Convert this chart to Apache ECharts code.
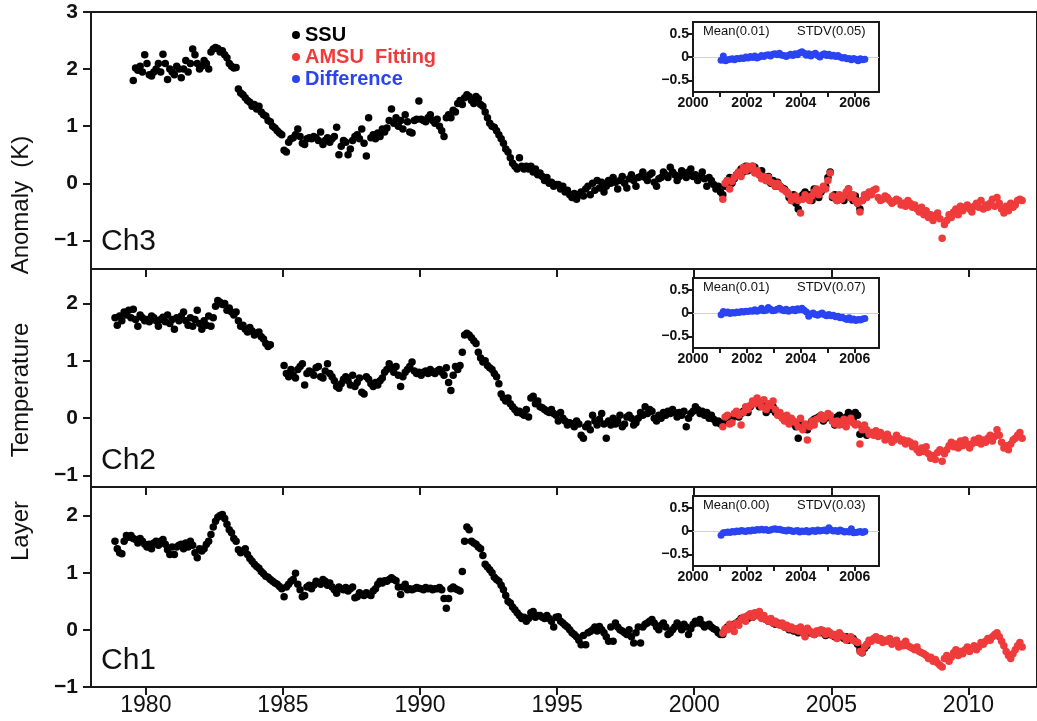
<!DOCTYPE html>
<html>
<head>
<meta charset="utf-8">
<script src="https://cdn.jsdelivr.net/npm/echarts@6/dist/echarts.min.js"></script>
<style>html,body{margin:0;padding:0;background:#fff}#chart{width:1037px;height:721px}</style>
</head>
<body>
<div id="chart"></div>
<script>
// monthly anomalies (K); each series starts at the given year + month (1-12)
let ssuStart = { ch3: [1979, 7], ch2: [1978, 11], ch1: [1978, 11] };
let amsuStart = [2001, 1];
let diffStart = [2001, 1];

let ssuCh3 = [
  1.80, 2.02, 1.98, 2.05, 1.95, 2.25,
  2.10, 1.90, 1.88, 1.95, 2.00, 2.10, 1.95, 2.26, 2.10, 1.82, 2.00, 1.95,
  1.90, 2.05, 2.00, 1.85, 2.00, 2.15, 1.95, 2.10, 2.35, 2.25, 2.10, 2.00,
  2.05, 2.15, 2.10, 2.00, 2.30, 2.35, 2.38, 2.36, 2.30, 2.32, 2.25, 2.20,
  2.10, 2.05, 2.02, 2.03, 1.65, 1.58, 1.55, 1.50, 1.45, 1.42, 1.35, 1.38,
  1.30, 1.35, 1.25, 1.20, 1.18, 1.10, 1.08, 1.00, 0.97, 0.92, 0.88, 0.85,
  0.58, 0.55, 0.72, 0.78, 0.80, 0.85, 0.95, 0.82, 0.70, 0.68, 0.78, 0.80,
  0.78, 0.82, 0.80, 0.75, 0.90, 0.68, 0.75, 0.80, 0.72, 0.78, 0.82, 0.98,
  0.50, 0.65, 0.75, 0.72, 0.50, 0.60, 0.75, 0.82, 0.85, 0.78, 0.95, 0.70,
  0.48, 1.15, 0.80, 0.85, 0.78, 0.88, 0.82, 0.95, 0.90, 0.97, 1.10, 1.30,
  1.05, 1.15, 1.00, 1.10, 0.95, 1.20, 1.08, 0.90, 0.88, 1.10, 1.12, 1.44,
  1.12, 1.10, 1.08, 1.15, 1.20, 1.10, 1.05, 1.12, 1.00, 0.92, 0.82, 1.15,
  1.20, 1.15, 1.28, 1.25, 1.40, 1.45, 1.38, 1.50, 1.55, 1.52, 1.45, 1.40,
  1.52, 1.48, 1.38, 1.35, 1.25, 1.15, 1.05, 1.00, 0.98, 0.92, 0.85, 0.78,
  0.70, 0.60, 0.55, 0.45, 0.35, 0.30, 0.25, 0.45, 0.30, 0.25, 0.30, 0.25,
  0.30, 0.20, 0.25, 0.15, 0.18, 0.12, 0.05, 0.10, 0.00, 0.02, -0.05, -0.02,
  -0.02, -0.10, -0.05, -0.15, -0.12, -0.20, -0.25, -0.18, -0.28, -0.20, -0.15, -0.22,
  -0.10, -0.05, -0.20, 0.00, -0.12, 0.05, -0.08, 0.02, -0.15, -0.05, 0.05, 0.00,
  0.10, 0.02, -0.10, 0.05, 0.12, 0.00, -0.08, 0.08, 0.15, 0.05, -0.05, 0.10,
  0.12, 0.20, 0.10, 0.05, 0.15, 0.18, 0.02, -0.05, 0.08, 0.10, 0.20, 0.15,
  0.10, 0.28, 0.20, 0.15, 0.05, 0.12, 0.22, 0.18, 0.10, 0.20, 0.25, 0.12,
  0.15, 0.05, 0.10, 0.20, 0.08, -0.05, 0.10, 0.05, -0.02, -0.10, -0.05, -0.15,
  -0.20, -0.05, 0.05, 0.10, 0.00, 0.08, 0.15, 0.20, 0.25, 0.20, 0.30, 0.22,
  0.25, 0.30, 0.28, 0.20, 0.15, 0.22, 0.10, 0.05, 0.12, 0.00, 0.05, -0.05,
  0.02, -0.05, -0.08, -0.10, -0.15, -0.25, -0.30, -0.20, -0.35, -0.45, -0.25, -0.20,
  -0.15, -0.25, -0.20, -0.30, -0.10, -0.20, -0.25, -0.15, -0.10, -0.05, 0.10, 0.20,
  -0.25, -0.20, -0.30, -0.28, -0.25, -0.30, -0.20, -0.10, -0.25, -0.30, -0.22, -0.35,
  -0.45, -0.30, -0.25, -0.20
];
let amsuCh3 = [
  -0.28, 0.00, 0.05, -0.10, 0.03, 0.10, 0.15, 0.20, 0.12, 0.28, 0.22, 0.30,
  0.25, 0.30, 0.18, 0.22, 0.15, 0.08, 0.12, 0.05, 0.10, 0.02, 0.00, -0.05,
  0.00, -0.05, -0.10, -0.12, -0.15, -0.20, -0.30, -0.25, -0.22, -0.30, -0.52, -0.28,
  -0.20, -0.25, -0.30, -0.22, -0.15, -0.10, -0.20, -0.12, -0.05, -0.10, 0.05, 0.18,
  -0.22, -0.25, -0.30, -0.20, -0.28, -0.22, -0.15, -0.10, -0.25, -0.20, -0.30, -0.35,
  -0.50, -0.30, -0.20, -0.25, -0.15, -0.20, -0.12, -0.10, -0.25, -0.30, -0.28, -0.22,
  -0.25, -0.30, -0.35, -0.32, -0.28, -0.30, -0.38, -0.35, -0.40, -0.30, -0.35, -0.42,
  -0.38, -0.45, -0.50, -0.42, -0.55, -0.48, -0.60, -0.55, -0.65, -0.58, -0.52, -0.62,
  -0.96, -0.72, -0.65, -0.55, -0.60, -0.50, -0.45, -0.55, -0.40, -0.48, -0.42, -0.38,
  -0.45, -0.50, -0.40, -0.35, -0.42, -0.30, -0.45, -0.38, -0.42, -0.35, -0.28, -0.40,
  -0.25, -0.35, -0.45, -0.52, -0.40, -0.48, -0.35, -0.42, -0.38, -0.30, -0.28, -0.30
];
let diffCh3 = [
  -0.07, 0.02, -0.08, -0.06, -0.05, -0.04, -0.06, -0.03, -0.04, -0.02, -0.03, 0.00,
  -0.02, 0.01, -0.01, 0.02, -0.02, 0.00, 0.03, 0.01, 0.04, 0.05, 0.02, 0.06,
  0.07, 0.05, 0.08, 0.04, 0.03, 0.01, 0.04, 0.06, 0.03, 0.07, 0.05, 0.09,
  0.11, 0.08, 0.04, 0.07, 0.02, 0.06, 0.08, 0.03, 0.00, 0.05, 0.07, 0.03,
  0.06, 0.02, 0.04, 0.01, 0.03, 0.00, -0.02, -0.01, -0.04, -0.03, -0.06, -0.03,
  -0.05, -0.08, -0.04, -0.06, -0.05
];

let ssuCh2 = [
  1.75, 1.62,
  1.78, 1.70, 1.85, 1.80, 1.88, 1.75, 1.90, 1.72, 1.60, 1.80, 1.75, 1.70,
  1.72, 1.68, 1.78, 1.75, 1.70, 1.60, 1.72, 1.76, 1.68, 1.80, 1.65, 1.72,
  1.55, 1.75, 1.70, 1.78, 1.85, 1.70, 1.62, 1.75, 1.60, 1.72, 1.88, 1.65,
  1.55, 1.70, 1.62, 1.78, 1.60, 1.75, 1.95, 2.05, 2.02, 1.98, 2.00, 1.88,
  1.92, 1.85, 1.80, 1.85, 1.70, 1.60, 1.62, 1.55, 1.50, 1.58, 1.52, 1.45,
  1.48, 1.50, 1.42, 1.38, 1.30, 1.25, 1.28, null, null, null, null, null,
  0.92, 0.78, 0.72, 0.85, 0.75, 0.70, 0.85, 0.90, 0.95, 0.58, 0.78, 0.82,
  0.80, 0.75, 0.88, 0.90, 0.72, 0.70, 0.82, 0.95, 0.78, 0.72, 0.65, 0.55,
  0.52, 0.60, 0.68, 0.72, 0.65, 0.58, 0.75, 0.55, 0.62, 0.70, 0.45, 0.42,
  0.72, 0.68, 0.60, 0.55, 0.62, 0.58, 0.65, 0.70, 0.80, 0.85, 0.95, 0.88,
  0.80, 0.90, 0.75, 0.55, 0.72, 0.80, 0.85, 0.90, 0.98, 0.82, 0.78, 0.80,
  0.75, 0.80, 0.82, 0.78, 0.85, 0.80, 0.78, 0.82, 0.85, 0.80, 0.75, 0.88,
  0.62, 0.48, 0.75, 0.90, 0.85, 0.92, 1.15, 1.45, 1.48, 1.45, 1.40, 1.35,
  1.30, 1.15, 1.05, 0.98, 1.00, 0.92, 0.88, 0.85, 0.78, 0.72, 0.60, 0.42,
  0.35, 0.30, 0.35, 0.25, 0.20, 0.15, 0.10, 0.12, 0.08, 0.05, 0.15, 0.02,
  0.35, 0.38, 0.25, 0.30, 0.20, 0.18, 0.15, 0.12, 0.10, 0.15, 0.08, 0.05,
  -0.05, 0.10, 0.00, -0.05, -0.12, -0.08, -0.10, -0.15, -0.05, -0.10, -0.30, -0.35,
  -0.15, -0.10, -0.20, 0.05, -0.05, -0.12, -0.02, 0.08, -0.10, -0.35, -0.05, -0.12,
  0.00, -0.10, -0.05, 0.05, -0.15, -0.10, 0.02, 0.05, 0.00, -0.12, -0.08, 0.00,
  0.10, 0.05, 0.20, 0.08, 0.15, 0.12, 0.00, -0.05, 0.05, 0.00, 0.10, 0.05,
  0.12, 0.08, 0.15, 0.10, 0.02, 0.10, 0.05, 0.12, -0.15, 0.00, 0.08, 0.12,
  0.20, 0.15, 0.08, 0.12, 0.05, 0.10, 0.00, 0.05, -0.02, -0.08, -0.05, -0.10,
  -0.10, -0.05, 0.00, 0.02, -0.02, 0.05, 0.10, 0.02, 0.08, 0.12, 0.18, 0.10,
  0.20, 0.25, 0.28, 0.30, 0.20, 0.22, 0.25, 0.10, 0.18, 0.15, 0.20, 0.10,
  0.08, 0.05, 0.02, -0.02, 0.00, -0.08, -0.05, -0.10, -0.15, -0.35, -0.08, -0.12,
  -0.15, -0.20, -0.10, -0.05, -0.02, 0.00, 0.02, 0.05, -0.05, 0.00, 0.05, 0.02,
  -0.05, -0.12, 0.02, 0.05, -0.10, -0.05, 0.02, 0.10, 0.05, -0.02, 0.10, 0.05,
  -0.28, -0.15, -0.20, -0.30
];
let amsuCh2 = [
  -0.15, 0.02, 0.05, -0.10, -0.08, 0.08, 0.12, 0.05, -0.12, 0.10, 0.20, 0.15,
  0.22, 0.30, 0.25, 0.35, 0.28, 0.20, 0.32, 0.15, 0.25, 0.22, 0.30, 0.15,
  0.05, 0.10, 0.00, -0.05, 0.05, -0.10, 0.00, -0.05, -0.08, -0.15, 0.00, -0.20,
  -0.10, -0.38, -0.15, -0.05, -0.12, -0.02, 0.00, 0.05, -0.02, 0.02, 0.08, 0.05,
  -0.05, -0.10, -0.05, -0.12, -0.08, -0.02, -0.15, -0.05, 0.00, -0.08, -0.12, -0.10,
  -0.45, -0.20, -0.12, -0.20, -0.28, -0.25, -0.30, -0.22, -0.32, -0.25, -0.30, -0.38,
  -0.28, -0.35, -0.42, -0.38, -0.30, -0.35, -0.40, -0.38, -0.45, -0.40, -0.42, -0.50,
  -0.45, -0.55, -0.60, -0.52, -0.58, -0.50, -0.62, -0.70, -0.65, -0.72, -0.60, -0.55,
  -0.75, -0.62, -0.55, -0.48, -0.42, -0.50, -0.45, -0.52, -0.40, -0.48, -0.38, -0.45,
  -0.52, -0.45, -0.38, -0.42, -0.35, -0.45, -0.38, -0.42, -0.35, -0.30, -0.40, -0.32,
  -0.20, -0.30, -0.42, -0.52, -0.48, -0.55, -0.45, -0.38, -0.35, -0.30, -0.25, -0.35
];
let diffCh2 = [
  -0.04, 0.03, 0.00, 0.02, -0.01, 0.01, 0.00, 0.02, 0.01, 0.03, 0.02, 0.04,
  0.03, 0.05, 0.04, 0.07, 0.04, 0.06, 0.10, 0.05, 0.06, 0.12, 0.08, 0.05,
  0.06, 0.08, 0.10, 0.07, 0.05, 0.08, 0.04, 0.06, 0.08, 0.05, 0.09, 0.07,
  0.10, 0.06, 0.02, -0.07, -0.02, 0.00, -0.03, -0.05, -0.02, 0.00, -0.04, -0.06,
  -0.03, -0.06, -0.05, -0.08, -0.07, -0.10, -0.09, -0.12, -0.14, -0.10, -0.15, -0.13,
  -0.16, -0.14, -0.15, -0.13, -0.12
];

let ssuCh1 = [
  1.55, 1.42,
  1.35, 1.33, 1.55, 1.65, 1.62, 1.65, 1.60, 1.58, 1.52, 1.60, 1.55, 1.50,
  1.45, 1.50, 1.42, 1.52, 1.55, 1.48, 1.55, 1.58, 1.50, 1.40, 1.32, 1.45,
  1.32, 1.45, 1.48, 1.50, 1.42, 1.52, 1.45, 1.55, 1.48, 1.35, 1.26, 1.42,
  1.38, 1.42, 1.50, 1.55, 1.67, 1.80, 1.90, 1.97, 2.00, 2.02, 1.95, 1.85,
  1.75, 1.70, 1.60, 1.55, 1.40, 1.35, 1.38, 1.42, 1.32, 1.25, 1.20, 1.15,
  1.11, 1.08, 1.02, 0.98, 0.94, 0.92, 0.88, 0.85, 0.82, 0.80, 0.76, 0.72,
  0.58, 0.75, 0.80, 0.85, 0.88, 0.99, 0.80, 0.70, 0.58, 0.60, 0.75, 0.78,
  0.72, 0.78, 0.85, 0.82, 0.80, 0.88, 0.85, 0.78, 0.82, 0.75, 0.70, 0.64,
  0.75, 0.72, 0.70, 0.74, 0.68, 0.72, 0.75, 0.56, 0.58, 0.65, 0.62, 0.60,
  0.65, 0.62, 0.60, 0.68, 0.72, 0.80, 0.85, 0.82, 0.86, 0.85, 0.88, 0.91,
  0.88, 0.86, 0.75, 0.62, 0.75, 0.80, 0.70, 0.72, 0.70, 0.72, 0.74, 0.73,
  0.72, 0.70, 0.74, 0.72, 0.73, 0.70, 0.72, 0.72, 0.74, 0.70, 0.55, 0.38,
  0.55, 0.72, 0.75, 0.72, 0.70, 0.68, 1.02, 1.55, 1.80, 1.75, 1.55, 1.52,
  1.50, 1.45, 1.42, 1.30, 1.15, 1.10, 1.05, 1.00, 0.92, 0.88, 0.85, 0.78,
  0.70, 0.60, 0.50, 0.47, 0.40, 0.35, 0.30, 0.25, 0.20, 0.22, 0.15, 0.20,
  0.30, 0.32, 0.22, 0.25, 0.25, 0.22, 0.20, 0.25, 0.20, 0.15, 0.05, 0.22,
  0.23, 0.15, 0.12, 0.08, 0.05, 0.00, -0.05, -0.08, -0.12, -0.18, -0.26, -0.10,
  -0.26, -0.05, -0.03, 0.00, 0.05, -0.02, 0.06, 0.00, -0.05, -0.12, -0.20, 0.05,
  -0.20, 0.12, 0.05, 0.00, -0.02, -0.05, -0.08, 0.00, -0.12, -0.23, -0.05, 0.05,
  -0.23, 0.05, 0.10, 0.12, 0.15, 0.18, 0.12, 0.05, 0.00, 0.08, 0.12, 0.05,
  -0.08, -0.05, 0.00, 0.05, 0.12, 0.08, 0.00, 0.10, 0.05, -0.08, 0.02, 0.10,
  0.15, 0.12, 0.18, 0.10, 0.05, 0.08, 0.10, 0.05, 0.02, 0.00, -0.05, -0.08,
  -0.08, 0.00, 0.05, 0.08, 0.02, 0.10, 0.12, 0.15, 0.20, 0.18, 0.22, 0.20,
  0.25, 0.22, 0.28, 0.25, 0.30, 0.22, 0.20, 0.18, 0.15, 0.18, 0.12, 0.10,
  0.12, 0.10, 0.08, 0.05, 0.05, 0.00, 0.02, -0.02, 0.00, -0.05, 0.02, -0.05,
  -0.08, 0.00, -0.05, -0.05, -0.08, -0.05, -0.02, -0.05, -0.02, -0.10, -0.05, -0.08,
  -0.10, -0.12, -0.10, -0.08, -0.12, -0.15, -0.12, -0.18, -0.15, -0.15, -0.20, -0.25,
  -0.35, -0.40, -0.32, -0.28
];
let amsuCh1 = [
  -0.06, 0.02, 0.00, 0.10, 0.05, -0.03, 0.12, 0.08, 0.18, 0.22, 0.15, 0.25,
  0.28, 0.22, 0.30, 0.25, 0.32, 0.20, 0.25, 0.18, 0.15, 0.20, 0.12, 0.15,
  0.10, 0.08, 0.12, 0.05, 0.08, 0.02, 0.05, 0.00, 0.02, -0.02, 0.05, -0.05,
  -0.12, 0.03, -0.02, -0.05, -0.08, -0.02, -0.05, 0.00, -0.03, -0.08, -0.02, -0.05,
  -0.10, -0.08, -0.15, -0.05, -0.10, -0.12, -0.18, -0.15, -0.12, -0.18, -0.20, -0.22,
  -0.38, -0.40, -0.30, -0.25, -0.18, -0.20, -0.15, -0.12, -0.18, -0.15, -0.22, -0.18,
  -0.20, -0.15, -0.25, -0.22, -0.18, -0.30, -0.25, -0.28, -0.20, -0.28, -0.30, -0.32,
  -0.35, -0.30, -0.38, -0.40, -0.42, -0.45, -0.50, -0.48, -0.55, -0.52, -0.58, -0.62,
  -0.65, -0.50, -0.45, -0.55, -0.48, -0.40, -0.35, -0.45, -0.38, -0.42, -0.35, -0.30,
  -0.38, -0.32, -0.28, -0.35, -0.30, -0.22, -0.25, -0.20, -0.15, -0.18, -0.12, -0.08,
  -0.05, -0.12, -0.20, -0.28, -0.38, -0.45, -0.50, -0.42, -0.35, -0.28, -0.22, -0.30
];
let diffCh1 = [
  -0.09, -0.04, -0.03, -0.02, -0.03, -0.01, -0.02, 0.00, -0.01, 0.01, 0.00, -0.01,
  0.01, 0.00, 0.02, 0.01, 0.03, 0.02, 0.04, 0.02, 0.03, 0.01, 0.02, 0.04,
  0.05, 0.03, 0.04, 0.02, 0.01, 0.00, 0.02, 0.01, -0.01, 0.00, 0.01, -0.02,
  0.00, -0.01, 0.01, -0.02, 0.00, 0.01, -0.01, 0.02, 0.00, 0.01, 0.02, 0.00,
  0.07, 0.02, 0.00, 0.01, -0.01, 0.02, 0.00, -0.02, -0.01, -0.02, 0.05, -0.04,
  -0.03, -0.02, -0.01, -0.03, -0.01
];

let panelNames = ['Ch3', 'Ch2', 'Ch1'];
let statTexts = [['Mean(0.01)', 'STDV(0.05)'], ['Mean(0.01)', 'STDV(0.07)'], ['Mean(0.00)', 'STDV(0.03)']];
let yTicksMain = [[-1, 0, 1, 2, 3], [-1, 0, 1, 2], [-1, 0, 1, 2]];
let yRangeMain = [[-1.5, 3], [-1.2, 2.6], [-1, 2.5]];
let xTicksMain = [1980, 1985, 1990, 1995, 2000, 2005, 2010];
let xTicksInset = [2000, 2001, 2002, 2003, 2004, 2005, 2006];
let xLabelsInset = [2000, 2002, 2004, 2006];
let yTicksInset = [-0.5, 0, 0.5];

function monthly(start, vals) {
  let out = [];
  for (let i = 0; i < vals.length; i++) {
    if (vals[i] === null) continue;
    let m = start[1] - 1 + i;
    out.push([start[0] + (m + 0.5) / 12, vals[i]]);
  }
  return out;
}
function minus(v) { return String(v).replace('-', '\u2212'); }
function plain(v) { return String(v); }

let FONT = 'Liberation Sans, Arial, sans-serif';
let mainTop = [12, 269, 487], mainH = [257, 218, 200];
let insetTop = [22, 278, 496];

let grids = [], xAxes = [], yAxes = [], titles = [], series = [];
for (let p = 0; p < 3; p++) {
  grids.push({ left: 91, top: mainTop[p], width: 946, height: mainH[p], show: true, borderColor: '#1a1a1a', borderWidth: 2 });
  xAxes.push({
    type: 'value', gridIndex: p, min: 1978, max: 2012.5,
    axisLine: { onZero: false, lineStyle: { color: '#1a1a1a', width: 2 } },
    axisTick: { customValues: xTicksMain, length: 8, lineStyle: { color: '#1a1a1a', width: 2 } },
    axisLabel: { show: p === 2, customValues: xTicksMain, fontSize: 23, color: '#111', margin: 7, fontFamily: FONT, formatter: plain },
    splitLine: { show: false }
  });
  yAxes.push({
    type: 'value', gridIndex: p, min: yRangeMain[p][0], max: yRangeMain[p][1],
    axisLine: { onZero: false, lineStyle: { color: '#1a1a1a', width: 2 } },
    axisTick: { customValues: yTicksMain[p], length: 8, lineStyle: { color: '#1a1a1a', width: 2 } },
    axisLabel: { customValues: yTicksMain[p], fontSize: 21, fontWeight: 'bold', color: '#111', margin: 13, fontFamily: FONT, formatter: minus },
    splitLine: { show: false }
  });
}
for (let p = 0; p < 3; p++) {
  grids.push({ left: 693, top: insetTop[p], width: 186, height: 70, show: true, borderColor: '#1a1a1a', borderWidth: 2, backgroundColor: '#fff', z: 5 });
  xAxes.push({
    type: 'value', gridIndex: 3 + p, min: 2000, max: 2006.9,
    axisLine: { onZero: false, lineStyle: { color: '#1a1a1a', width: 2 } },
    axisTick: { customValues: xTicksInset, length: 5, lineStyle: { color: '#1a1a1a', width: 2 } },
    axisLabel: { customValues: xLabelsInset, fontSize: 14, fontWeight: 'bold', color: '#111', margin: 4, fontFamily: FONT, formatter: plain },
    splitLine: { show: false }
  });
  yAxes.push({
    type: 'value', gridIndex: 3 + p, min: -0.75, max: 0.75,
    axisLine: { onZero: false, lineStyle: { color: '#1a1a1a', width: 2 } },
    axisTick: { customValues: yTicksInset, length: 5, lineStyle: { color: '#1a1a1a', width: 2 } },
    axisLabel: { customValues: yTicksInset, fontSize: 14, fontWeight: 'bold', color: '#111', margin: 4, fontFamily: FONT, formatter: minus },
    splitLine: { show: false }
  });
}

let chTop = [227, 446, 646];
for (let p = 0; p < 3; p++) {
  titles.push({ text: panelNames[p], left: 101, top: chTop[p], padding: 0,
    textStyle: { fontSize: 30, fontWeight: 'normal', color: '#111', fontFamily: FONT } });
  titles.push({ text: statTexts[p][0], left: 703, top: insetTop[p] + 3, padding: 0,
    textStyle: { fontSize: 13, fontWeight: 'normal', color: '#111', fontFamily: FONT } });
  titles.push({ text: statTexts[p][1], left: 797, top: insetTop[p] + 3, padding: 0,
    textStyle: { fontSize: 13, fontWeight: 'normal', color: '#111', fontFamily: FONT } });
}

let ssuAll = [[ssuStart.ch3, ssuCh3], [ssuStart.ch2, ssuCh2], [ssuStart.ch1, ssuCh1]];
let amsuAll = [amsuCh3, amsuCh2, amsuCh1];
let diffAll = [diffCh3, diffCh2, diffCh1];
for (let p = 0; p < 3; p++) {
  series.push({ name: 'SSU', type: 'scatter', xAxisIndex: p, yAxisIndex: p, symbolSize: 7.5,
    itemStyle: { color: '#000', opacity: 1 }, data: monthly(ssuAll[p][0], ssuAll[p][1]) });
  series.push({ name: 'AMSU Fitting', type: 'scatter', xAxisIndex: p, yAxisIndex: p, symbolSize: 7.5,
    itemStyle: { color: '#ef3b3b', opacity: 1 }, data: monthly(amsuStart, amsuAll[p]) });
  series.push({ name: 'Difference', type: 'scatter', xAxisIndex: 3 + p, yAxisIndex: 3 + p, symbolSize: 7, z: 6,
    itemStyle: { color: '#2a44f2', opacity: 1 }, data: monthly(diffStart, diffAll[p]),
    markLine: { silent: true, symbol: 'none', label: { show: false },
      lineStyle: { color: '#d0d0d0', width: 1, type: 'solid' }, data: [{ yAxis: 0 }] } });
}

let chart = echarts.init(document.getElementById('chart'));
chart.setOption({
  animation: false,
  backgroundColor: '#fff',
  textStyle: { fontFamily: FONT },
  title: titles,
  legend: {
    orient: 'vertical', left: 287, top: 20, icon: 'circle', itemWidth: 8, itemHeight: 8, itemGap: 2,
    selectedMode: false,
    textStyle: { fontSize: 20, fontWeight: 'bold', lineHeight: 20, fontFamily: FONT },
    formatter: function (n) { return n === 'AMSU Fitting' ? 'AMSU  Fitting' : n; },
    data: [
      { name: 'SSU', textStyle: { color: '#000' } },
      { name: 'AMSU Fitting', textStyle: { color: '#ef3b3b' } },
      { name: 'Difference', textStyle: { color: '#2a44f2' } }
    ]
  },
  graphic: [
    { type: 'text', x: 21, y: 531, rotation: Math.PI / 2, style: { text: 'Layer', font: '24px ' + FONT, fill: '#111', textAlign: 'center', textVerticalAlign: 'middle' } },
    { type: 'text', x: 21, y: 390, rotation: Math.PI / 2, style: { text: 'Temperature', font: '24px ' + FONT, fill: '#111', textAlign: 'center', textVerticalAlign: 'middle' } },
    { type: 'text', x: 21, y: 205, rotation: Math.PI / 2, style: { text: 'Anomaly  (K)', font: '24px ' + FONT, fill: '#111', textAlign: 'center', textVerticalAlign: 'middle' } }
  ],
  grid: grids,
  xAxis: xAxes,
  yAxis: yAxes,
  series: series
});
</script>
</body>
</html>
